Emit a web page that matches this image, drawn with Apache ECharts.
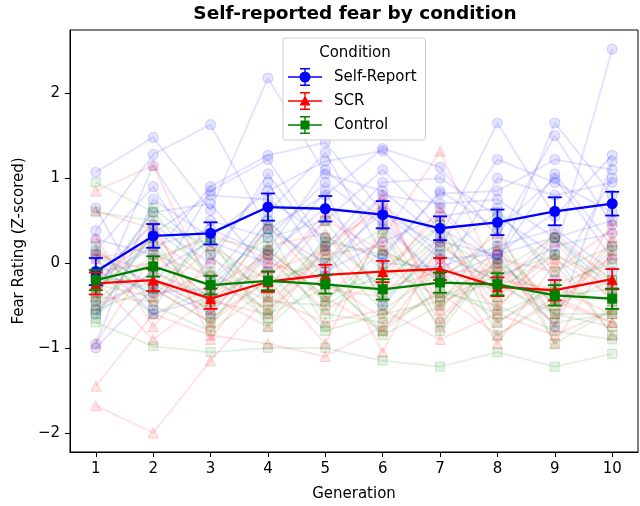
<!DOCTYPE html>
<html>
<head>
<meta charset="utf-8">
<script src="https://cdn.jsdelivr.net/npm/echarts@6/dist/echarts.min.js"></script>
<style>
  html, body { margin: 0; padding: 0; background: #fff; }
  #chart { width: 640px; height: 506px; }
</style>
</head>
<body>
<div id="chart"></div>
<script>
const generations = [1, 2, 3, 4, 5, 6, 7, 8, 9, 10];
const yTicks = [-2, -1, 0, 1, 2];

// group means and standard errors
const selfReportMean = [-0.10, 0.32, 0.35, 0.66, 0.64, 0.57, 0.41, 0.48, 0.61, 0.70];
const selfReportSem = [0.16, 0.14, 0.13, 0.16, 0.15, 0.16, 0.14, 0.15, 0.165, 0.14];
const scrMean = [-0.24, -0.20, -0.42, -0.22, -0.14, -0.10, -0.07, -0.28, -0.32, -0.19];
const scrSem = [0.13, 0.13, 0.12, 0.12, 0.12, 0.125, 0.13, 0.11, 0.12, 0.12];
const controlMean = [-0.20, -0.04, -0.26, -0.21, -0.25, -0.31, -0.23, -0.25, -0.38, -0.42];
const controlSem = [0.12, 0.12, 0.11, 0.11, 0.11, 0.12, 0.12, 0.13, 0.12, 0.12];

// individual participants (faint lines)
const selfReportSubjects = [
  [1.07, 1.48, 0.62, 2.18, 1.05, 0.85, 0.30, 1.65, 0.55, 1.27],
  [0.38, 1.28, 1.63, 0.40, 0.80, 1.35, 1.13, 0.30, 1.50, 0.45],
  [0.28, 0.10, 0.90, 1.27, 1.42, 0.60, 0.20, 1.22, 0.95, 0.60],
  [-0.95, 0.75, 0.30, 0.85, 1.20, 1.32, 0.65, 0.00, 1.65, 0.80],
  [-1.00, -0.30, 0.85, 1.22, 0.20, 0.95, 1.00, 0.55, 0.10, 2.52],
  [0.15, 0.90, -0.20, 0.60, 1.30, 0.10, 0.82, 0.85, 1.22, 1.10],
  [0.65, -0.55, 0.50, 0.30, 0.95, 0.45, -0.20, 1.00, 0.80, 0.95],
  [-0.30, 0.60, 0.70, -0.10, 0.50, 1.10, 0.40, 0.05, 1.05, 0.20],
  [-0.45, 1.15, 0.10, 0.95, -0.10, 0.25, 0.55, 0.65, -0.20, 1.00],
  [-0.20, 0.20, 0.40, 0.10, 0.65, 0.00, -0.05, 0.20, 0.40, -0.10],
  [0.05, -0.60, -0.40, 0.50, -0.15, 0.70, 0.10, -0.20, 0.20, 0.35],
  [-0.60, 0.35, 0.80, 0.75, 0.30, 0.05, 0.85, 0.40, 1.00, 0.05],
  [0.10, -0.25, -0.60, 0.15, 1.10, 0.50, -0.20, 0.10, -0.75, 1.20],
  [-0.15, 0.45, 0.00, 1.05, 0.15, 0.80, 0.70, 0.75, 0.30, -0.30],
  [-0.55, -0.10, 0.25, 0.00, 0.85, -0.50, 0.25, 0.10, 0.60, 0.70],
  [-0.10, -0.35, -0.30, 0.40, 0.00, 0.60, 0.05, 0.10, 0.30, 0.50]
];
const scrSubjects = [
  [-1.68, -2.00, -1.15, -0.40, -0.70, -0.55, -0.90, -0.60, -0.85, -0.55],
  [-1.45, -0.60, -0.85, -0.95, -1.10, -0.75, -0.35, -0.85, -0.45, -0.70],
  [0.85, 1.15, -0.30, 0.10, -0.45, 0.30, 1.32, -0.20, -0.30, 0.05],
  [0.62, 0.40, -0.60, 0.20, 0.35, -0.30, -0.10, -0.10, -0.60, 0.30],
  [-0.95, 0.10, -0.40, -0.75, 0.20, -1.05, 0.25, -0.40, 0.10, -0.30],
  [-0.40, -0.45, 0.20, -0.20, -0.95, 0.45, -0.55, 0.20, -0.95, 0.15],
  [0.15, -0.30, -0.70, -0.20, 0.60, -0.10, 0.55, -0.70, -0.30, -0.60],
  [-0.20, 0.30, -0.20, -0.55, 0.00, 0.80, -0.65, 0.05, -0.10, 0.40],
  [-0.50, -0.20, -0.55, 0.45, -0.30, -0.40, 0.30, -0.50, 0.05, -0.40],
  [0.30, -0.75, 0.05, -0.30, 0.50, 0.15, -0.20, 0.35, -0.65, 0.25],
  [-0.35, 0.50, -0.90, 0.00, -0.20, -0.65, 0.10, -0.95, 0.00, -0.85],
  [0.10, -0.10, -0.45, -0.60, 0.25, 0.60, -0.40, 0.00, -0.75, 0.50],
  [-0.10, 0.00, 0.35, 0.05, -0.55, -0.20, 0.65, -0.30, 0.35, -0.20],
  [-0.25, -0.40, -0.10, -0.45, 0.10, 0.20, -0.75, 0.15, -0.50, 0.10],
  [0.05, 0.20, -0.75, 0.15, -0.40, -0.80, 0.05, -0.55, 0.25, -0.45],
  [-0.20, -0.90, -0.40, -0.10, 0.15, 0.70, -0.50, -0.05, -0.40, -0.70]
];
const controlSubjects = [
  [0.95, 0.60, -0.20, 0.30, 0.50, -0.40, 0.10, 0.60, -0.10, 0.20],
  [-0.70, -0.98, -1.05, -1.00, -1.00, -1.15, -1.22, -1.05, -1.22, -1.07],
  [0.60, 0.50, 0.20, -0.40, 0.25, 0.10, -0.15, 0.20, -0.50, -0.20],
  [-0.55, -0.30, -0.70, 0.10, -0.60, -0.70, -0.35, -0.50, -0.80, -0.90],
  [-0.40, 0.65, 0.10, -0.60, -0.30, -0.20, 0.30, -0.10, 0.30, -0.40],
  [-0.30, 0.20, -0.45, 0.40, -0.75, 0.35, -0.80, 0.05, -0.60, -0.75],
  [0.20, -0.50, -0.80, -0.30, 0.10, -0.55, -0.10, -0.70, -0.25, 0.00],
  [-0.50, 0.05, 0.30, -0.75, -0.15, -0.85, -0.50, 0.45, -0.95, -0.55],
  [-0.20, -0.20, -0.55, 0.20, -0.45, 0.15, -0.20, -0.30, 0.10, -0.85],
  [-0.65, 0.40, -0.10, -0.55, 0.30, -0.30, 0.45, -0.85, -0.40, -0.30],
  [-0.10, -0.60, -0.30, -0.10, -0.80, -0.60, -0.45, -0.20, -0.70, -0.60],
  [-0.35, 0.30, -0.65, -0.20, 0.00, 0.40, -0.70, 0.00, -0.45, 0.15],
  [0.10, -0.40, 0.30, -0.45, -0.50, -0.10, 0.45, -0.40, 0.30, -0.20],
  [-0.60, -0.10, -0.40, 0.50, -0.20, -0.80, -0.30, -0.60, -0.30, -0.45],
  [-0.45, 0.10, -0.15, -0.65, 0.20, -0.45, 0.20, -0.25, -0.60, -0.60],
  [-0.15, -0.30, 0.30, 0.15, -0.40, -0.05, -0.40, -0.15, 0.10, -0.20]
];

const FONT = 'DejaVu Sans';

// legend handles: line + marker + error bar
const iconCircle = 'path://M0,9.2H34V10.8H0Z M12,1H22V2.4H12Z M12,17.6H22V19H12Z M16.3,1H17.7V19H16.3Z M11.5,10A5.5,5.5,0,1,1,22.5,10A5.5,5.5,0,1,1,11.5,10Z';
const iconTriangle = 'path://M0,9.2H34V10.8H0Z M12,1H22V2.4H12Z M12,17.6H22V19H12Z M16.3,1H17.7V19H16.3Z M17,4.5L22.5,14.5L11.5,14.5Z';
const iconSquare = 'path://M0,9.2H34V10.8H0Z M12,1H22V2.4H12Z M12,17.6H22V19H12Z M16.3,1H17.7V19H16.3Z M12.5,5.5H21.5V14.5H12.5Z';

function subjectSeries(rows, rgb, symbol, size) {
  return rows.map(row => ({
    type: 'line',
    data: generations.map((g, i) => [g, row[i]]),
    symbol: symbol,
    symbolSize: size,
    lineStyle: { color: `rgba(${rgb},0.11)`, width: 2 },
    itemStyle: { color: `rgba(${rgb},0.1)`, borderColor: `rgba(${rgb},0.14)`, borderWidth: 1.2 },
    emphasis: { disabled: true },
    silent: true,
    z: 1
  }));
}

function meanSeries(name, means, color, symbol, size, z) {
  return {
    name: name,
    type: 'line',
    data: generations.map((g, i) => [g, means[i]]),
    symbol: symbol,
    symbolSize: size,
    lineStyle: { color: color, width: 2.3 },
    itemStyle: { color: color },
    emphasis: { disabled: true },
    z: z
  };
}

function errorSeries(means, sems, color, z) {
  return {
    type: 'custom',
    data: generations.map((g, i) => [g, means[i] - sems[i], means[i] + sems[i]]),
    renderItem: (params, api) => {
      const lo = api.coord([api.value(0), api.value(1)]);
      const hi = api.coord([api.value(0), api.value(2)]);
      const w = 7;
      const st = { stroke: color, lineWidth: 1.8 };
      return {
        type: 'group',
        children: [
          { type: 'line', shape: { x1: lo[0], y1: lo[1], x2: hi[0], y2: hi[1] }, style: st },
          { type: 'line', shape: { x1: lo[0] - w, y1: lo[1], x2: lo[0] + w, y2: lo[1] }, style: st },
          { type: 'line', shape: { x1: hi[0] - w, y1: hi[1], x2: hi[0] + w, y2: hi[1] }, style: st }
        ]
      };
    },
    silent: true,
    z: z
  };
}

const chart = echarts.init(document.getElementById('chart'));

chart.setOption({
  animation: false,
  backgroundColor: '#fff',
  title: [
    {
      text: 'Self-reported fear by condition',
      left: 355, top: 5, textAlign: 'center', padding: 0,
      textStyle: { fontFamily: FONT, fontWeight: 'bold', fontSize: 18.5, color: '#000' }
    },
    {
      text: 'Condition',
      left: 355, top: 46, textAlign: 'center', padding: 0, z: 12,
      textStyle: { fontFamily: FONT, fontWeight: 'normal', fontSize: 15, color: '#000' }
    }
  ],
  legend: {
    data: [
      { name: 'Self-Report', icon: iconCircle },
      { name: 'SCR', icon: iconTriangle },
      { name: 'Control', icon: iconSquare }
    ],
    orient: 'vertical',
    left: 283, top: 38,
    padding: [30, 9, 6, 5],
    itemGap: 6,
    itemWidth: 34,
    itemHeight: 18,
    borderColor: '#cccccc',
    borderWidth: 1,
    borderRadius: 3,
    backgroundColor: 'rgba(255,255,255,0.8)',
    selectedMode: false,
    z: 10,
    textStyle: { fontFamily: FONT, fontSize: 15, color: '#000', padding: [0, 0, 0, 7] }
  },
  grid: {
    left: 70, right: 2, top: 30, bottom: 54,
    show: true, borderColor: '#000', borderWidth: 1,
    outerBoundsMode: 'none'
  },
  xAxis: {
    type: 'value',
    min: 0.55, max: 10.45,
    name: 'Generation',
    nameLocation: 'middle',
    nameGap: 35,
    nameTextStyle: { fontFamily: FONT, fontSize: 15, color: '#000' },
    axisLine: { show: true, onZero: false, lineStyle: { color: '#000', width: 1 } },
    axisTick: { show: true, length: 5, customValues: generations, lineStyle: { color: '#000' } },
    axisLabel: { customValues: generations, margin: 10, fontFamily: FONT, fontSize: 15, color: '#000' },
    splitLine: { show: false }
  },
  yAxis: {
    type: 'value',
    min: -2.226, max: 2.746,
    name: 'Fear Rating (Z-scored)',
    nameLocation: 'middle',
    nameGap: 37,
    nameTextStyle: { fontFamily: FONT, fontSize: 15, color: '#000' },
    axisLine: { show: true, onZero: false, lineStyle: { color: '#000', width: 1 } },
    axisTick: { show: true, length: 5, customValues: yTicks, lineStyle: { color: '#000' } },
    axisLabel: {
      customValues: yTicks, margin: 10, fontFamily: FONT, fontSize: 15, color: '#000',
      formatter: v => String(v).replace('-', '\u2212')
    },
    splitLine: { show: false }
  },
  series: [
    ...subjectSeries(selfReportSubjects, '0,0,255', 'circle', 10),
    ...subjectSeries(scrSubjects, '255,0,0', 'triangle', 10),
    ...subjectSeries(controlSubjects, '0,128,0', 'rect', 9),
    errorSeries(selfReportMean, selfReportSem, '#0000ff', 3),
    meanSeries('Self-Report', selfReportMean, '#0000ff', 'circle', 11, 3),
    errorSeries(scrMean, scrSem, '#ff0000', 4),
    meanSeries('SCR', scrMean, '#ff0000', 'triangle', 11, 4),
    errorSeries(controlMean, controlSem, '#008000', 5),
    meanSeries('Control', controlMean, '#008000', 'rect', 10, 5)
  ]
});
</script>
</body>
</html>
